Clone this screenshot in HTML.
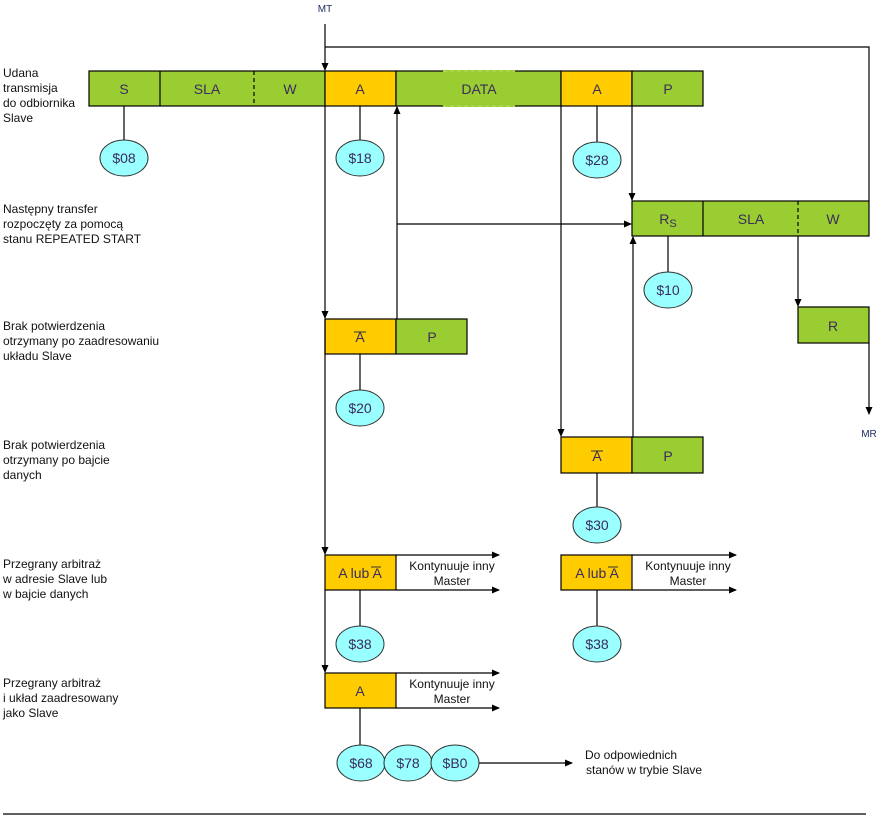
<!DOCTYPE html>
<html><head><meta charset="utf-8"><style>
html,body{margin:0;padding:0;background:#fff;}
svg{display:block;font-family:"Liberation Sans",sans-serif;}
.l{font-size:12px;fill:#111;}
.b{font-size:14px;fill:#3a2d5c;text-anchor:middle;}
.o{font-size:14px;fill:#3a2d5c;text-anchor:middle;}
</style></head><body>
<svg width="881" height="820" viewBox="0 0 881 820">
<defs>
<marker id="ar" markerWidth="8" markerHeight="8" refX="7" refY="4" orient="auto" markerUnits="userSpaceOnUse"><path d="M0,0.5 L8,4 L0,7.5 z" fill="#000"/></marker>
</defs>
<g stroke="#000" stroke-width="1.2" fill="none">
<rect x="89" y="71" width="236" height="35" fill="#9acd32"/>
<rect x="325" y="71" width="71" height="35" fill="#ffcc00"/>
<rect x="396" y="71" width="165" height="35" fill="#9acd32"/>
<rect x="561" y="71" width="71" height="35" fill="#ffcc00"/>
<rect x="632" y="71" width="71" height="35" fill="#9acd32"/>
<line x1="160" y1="71" x2="160" y2="106"/>
<line x1="254" y1="71" x2="254" y2="106" stroke-dasharray="4,3"/>
<rect x="632" y="201" width="237" height="35" fill="#9acd32"/>
<line x1="703" y1="201" x2="703" y2="236"/>
<line x1="798" y1="201" x2="798" y2="236" stroke-dasharray="4,3"/>
<rect x="798" y="307" width="71" height="36" fill="#9acd32"/>
<rect x="325" y="319" width="71" height="35" fill="#ffcc00"/>
<rect x="396" y="319" width="71" height="35" fill="#9acd32"/>
<rect x="561" y="437" width="71" height="36" fill="#ffcc00"/>
<rect x="632" y="437" width="71" height="36" fill="#9acd32"/>
<rect x="325" y="555" width="71" height="35" fill="#ffcc00"/>
<rect x="561" y="555" width="71" height="35" fill="#ffcc00"/>
<rect x="325" y="673" width="71" height="35" fill="#ffcc00"/>
<line x1="124" y1="106" x2="124" y2="141"/>
<line x1="360" y1="106" x2="360" y2="141"/>
<line x1="597" y1="106" x2="597" y2="142"/>
<line x1="668" y1="236" x2="668" y2="272"/>
<line x1="360" y1="354" x2="360" y2="390"/>
<line x1="597" y1="473" x2="597" y2="508"/>
<line x1="360" y1="590" x2="360" y2="626"/>
<line x1="597" y1="590" x2="597" y2="626"/>
<line x1="360" y1="708" x2="360" y2="745"/>
<line x1="325" y1="24" x2="325" y2="70" marker-end="url(#ar)"/>
<polyline points="325,47 869,47 869,201"/>
<line x1="325" y1="106" x2="325" y2="318" marker-end="url(#ar)"/>
<line x1="325" y1="319" x2="325" y2="554" marker-end="url(#ar)"/>
<line x1="325" y1="590" x2="325" y2="672" marker-end="url(#ar)"/>
<line x1="397" y1="319" x2="397" y2="107" marker-end="url(#ar)"/>
<line x1="397" y1="224" x2="631" y2="224" marker-end="url(#ar)"/>
<line x1="632" y1="106" x2="632" y2="200" marker-end="url(#ar)"/>
<line x1="561" y1="106" x2="561" y2="436" marker-end="url(#ar)"/>
<line x1="633" y1="437" x2="633" y2="237" marker-end="url(#ar)"/>
<line x1="798" y1="236" x2="798" y2="306" marker-end="url(#ar)"/>
<line x1="869" y1="343" x2="869" y2="414" marker-end="url(#ar)"/>
<line x1="396" y1="555" x2="499" y2="555" marker-end="url(#ar)"/>
<line x1="396" y1="590" x2="499" y2="590" marker-end="url(#ar)"/>
<line x1="632" y1="555" x2="736" y2="555" marker-end="url(#ar)"/>
<line x1="632" y1="590" x2="736" y2="590" marker-end="url(#ar)"/>
<line x1="396" y1="673" x2="499" y2="673" marker-end="url(#ar)"/>
<line x1="396" y1="708" x2="499" y2="708" marker-end="url(#ar)"/>
<line x1="479" y1="763" x2="572" y2="763" marker-end="url(#ar)"/>
<line x1="3" y1="814" x2="866" y2="814"/>
</g>
<line x1="443" y1="71" x2="515" y2="71" stroke="#9acd32" stroke-width="2"/>
<line x1="443" y1="106" x2="515" y2="106" stroke="#9acd32" stroke-width="2"/>
<line x1="443" y1="71" x2="515" y2="71" stroke="#b8dc6a" stroke-width="1" stroke-dasharray="4,3"/>
<line x1="443" y1="106" x2="515" y2="106" stroke="#b8dc6a" stroke-width="1" stroke-dasharray="4,3"/>
<g fill="#99ffff" stroke="#333" stroke-width="1">
<ellipse cx="124" cy="158" rx="24" ry="18"/>
<ellipse cx="360" cy="158" rx="24" ry="18"/>
<ellipse cx="597" cy="160" rx="24" ry="18"/>
<ellipse cx="668" cy="290" rx="24" ry="18"/>
<ellipse cx="360" cy="408" rx="24" ry="18"/>
<ellipse cx="597" cy="525" rx="24" ry="18"/>
<ellipse cx="360" cy="644" rx="24" ry="18"/>
<ellipse cx="597" cy="644" rx="24" ry="18"/>
<ellipse cx="361" cy="763" rx="24" ry="18"/>
<ellipse cx="408" cy="763" rx="24" ry="18"/>
<ellipse cx="455" cy="763" rx="24" ry="18"/>
</g>
<g>
<text x="124" y="94" class="b">S</text>
<text x="207" y="94" class="b">SLA</text>
<text x="290" y="94" class="b">W</text>
<text x="360" y="94" class="b">A</text>
<text x="479" y="94" class="b">DATA</text>
<text x="597" y="94" class="b">A</text>
<text x="668" y="94" class="b">P</text>
<text x="668" y="224" class="b">R<tspan font-size="11" dy="3">S</tspan></text>
<text x="751" y="224" class="b">SLA</text>
<text x="833" y="224" class="b">W</text>
<text x="833" y="331" class="b">R</text>
<text x="360" y="342" class="b">A</text>
<text x="432" y="342" class="b">P</text>
<text x="597" y="461" class="b">A</text>
<text x="668" y="461" class="b">P</text>
<text x="360" y="578" class="b" font-size="13">A lub A</text>
<text x="597" y="578" class="b" font-size="13">A lub A</text>
<text x="360" y="696" class="b">A</text>
</g>
<g stroke="#333" stroke-width="1">
<line x1="354" y1="332" x2="366" y2="332"/>
<line x1="591" y1="451" x2="603" y2="451"/>
<line x1="371" y1="567" x2="381" y2="567"/>
<line x1="608" y1="567" x2="618" y2="567"/>
</g>
<g>
<text x="124" y="163" class="o">$08</text>
<text x="360" y="163" class="o">$18</text>
<text x="597" y="165" class="o">$28</text>
<text x="668" y="295" class="o">$10</text>
<text x="360" y="413" class="o">$20</text>
<text x="597" y="530" class="o">$30</text>
<text x="360" y="649" class="o">$38</text>
<text x="597" y="649" class="o">$38</text>
<text x="361" y="768" class="o">$68</text>
<text x="408" y="768" class="o">$78</text>
<text x="455" y="768" class="o">$B0</text>
</g>
<g class="l" text-anchor="middle">
<text x="452" y="570">Kontynuuje inny</text><text x="452" y="585">Master</text>
<text x="688" y="570">Kontynuuje inny</text><text x="688" y="585">Master</text>
<text x="452" y="688">Kontynuuje inny</text><text x="452" y="703">Master</text>
</g>
<text x="325" y="12" font-size="10" fill="#1a3060" text-anchor="middle">MT</text>
<text x="869" y="437" font-size="10" fill="#1a3060" text-anchor="middle">MR</text>
<g class="l">
<text x="585" y="759">Do odpowiednich</text><text x="586" y="774">stanów  w trybie Slave</text>
<text x="3" y="77">Udana</text><text x="3" y="92">transmisja</text><text x="3" y="107">do odbiornika</text><text x="3" y="122">Slave</text>
<text x="3" y="213">Następny transfer</text><text x="3" y="228">rozpoczęty za pomocą</text><text x="3" y="243">stanu REPEATED START</text>
<text x="3" y="330">Brak potwierdzenia</text><text x="3" y="345">otrzymany po zaadresowaniu</text><text x="3" y="360">układu Slave</text>
<text x="3" y="449">Brak potwierdzenia</text><text x="3" y="464">otrzymany po bajcie</text><text x="3" y="479">danych</text>
<text x="3" y="568">Przegrany arbitraż</text><text x="3" y="583">w adresie Slave lub</text><text x="3" y="598">w bajcie danych</text>
<text x="3" y="687">Przegrany arbitraż</text><text x="3" y="702">i układ zaadresowany</text><text x="3" y="717">jako Slave</text>
</g>
</svg>
</body></html>
